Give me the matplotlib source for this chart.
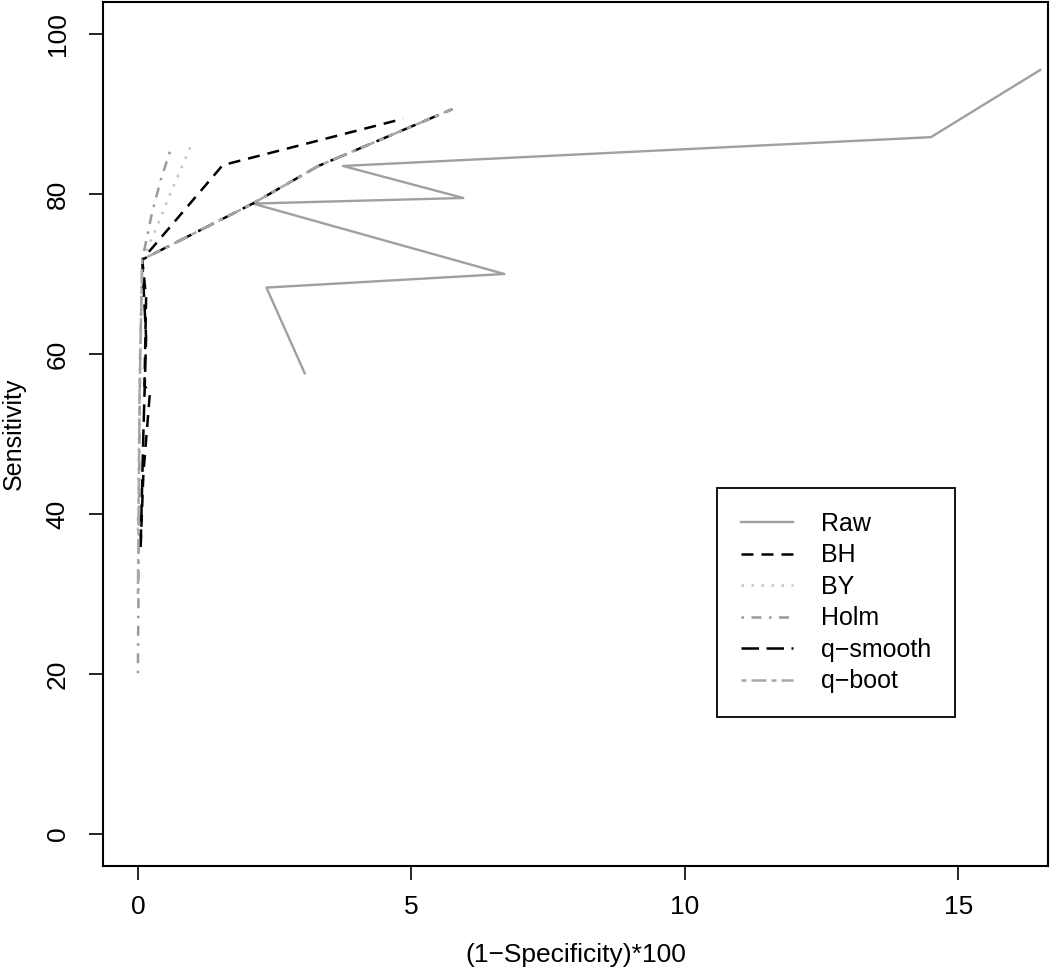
import matplotlib
matplotlib.use("Agg")
import matplotlib.pyplot as plt

plt.rcParams['font.family'] = ['Liberation Sans Narrow', 'Liberation Sans', 'DejaVu Sans']

# ROC-like curves
raw_x = [3.05, 2.35, 6.7, 2.1, 5.95, 3.75, 14.5, 16.5]
raw_y = [57.6, 68.3, 70.0, 78.8, 79.5, 83.5, 87.1, 95.5]

bh_x = [0.05, 0.1, 0.22, 0.12, 0.15, 0.08, 1.55, 4.85]
bh_y = [35.9, 45.0, 55.2, 56.0, 67.0, 71.8, 83.6, 89.4]

by_x = [0.0, 0.02, 0.05, 0.08, 0.33, 0.57, 1.0]
by_y = [38.0, 50.0, 62.0, 71.8, 75.6, 79.7, 86.5]

holm_x = [0.0, 0.02, 0.04, 0.08, 0.26, 0.42, 0.6]
holm_y = [20.1, 40.0, 60.0, 71.8, 77.7, 81.8, 85.6]

qsmooth_x = [0.05, 0.1, 0.15, 0.08, 2.1, 3.3, 5.75]
qsmooth_y = [35.9, 50.0, 62.0, 71.8, 78.8, 83.5, 90.6]

qboot_x = [0.0, 0.03, 0.08, 2.1, 3.3, 5.75]
qboot_y = [30.0, 55.0, 71.8, 78.8, 83.5, 90.6]

fig = plt.figure(figsize=(10.5, 9.72), dpi=100)
ax = fig.add_axes([0.098, 0.109, 0.9, 0.889])

ax.plot(raw_x, raw_y, color='#a0a0a0', lw=1.7, ls='-', label='Raw')
ax.plot(bh_x, bh_y, color='black', lw=1.8, ls=(0, (4.8, 3.2)), label='BH')
ax.plot(by_x, by_y, color='#c4c4c4', lw=1.8, ls=(0, (1, 3)), label='BY')
ax.plot(holm_x, holm_y, color='#9a9a9a', lw=1.8, ls=(0, (1, 3, 4, 3)), label='Holm')
ax.plot(qsmooth_x, qsmooth_y, color='black', lw=1.8, ls=(0, (7, 3)), label='q\u2212smooth')
ax.plot(qboot_x, qboot_y, color='#a8a8a8', lw=1.8, ls=(0, (2, 2, 6, 2)), label='q\u2212boot')

ax.set_xlim(-0.64, 16.64)
ax.set_ylim(-4, 104)
ax.set_xticks([0, 5, 10, 15])
ax.set_yticks([0, 20, 40, 60, 80, 100])
for lab in ax.get_yticklabels():
    lab.set_rotation(90)
    lab.set_va('center')
ax.tick_params(length=10, width=1.2, labelsize=19, pad=11)
ax.tick_params(axis='y', pad=14)
for sp in ax.spines.values():
    sp.set_linewidth(1.5)

ax.set_xlabel('(1\u2212Specificity)*100', fontsize=19, labelpad=17)
ax.set_ylabel('Sensitivity', fontsize=18, labelpad=14)

leg = ax.legend(loc='upper left', bbox_to_anchor=(0.65, 0.4375), fontsize=18,
                frameon=True, fancybox=False, edgecolor='black', framealpha=1,
                handlelength=2.1, labelspacing=0.3, borderpad=0.95,
                handletextpad=1.1, borderaxespad=0)
leg.get_frame().set_linewidth(1.3)

fig.savefig('out.png', dpi=100)
